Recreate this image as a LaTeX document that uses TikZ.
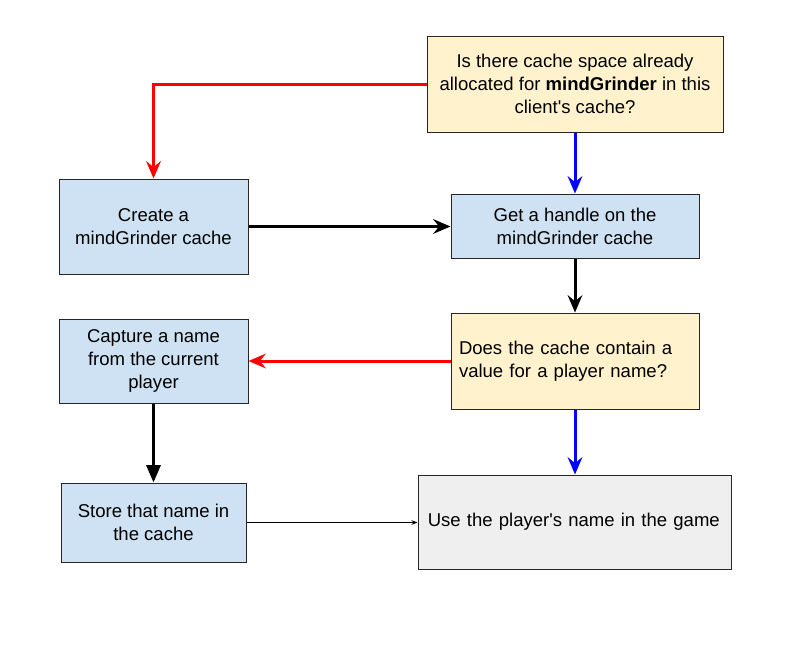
\documentclass[tikz,border=0pt]{standalone}
\usepackage{fontspec}
\setmainfont{Liberation Sans}
\usetikzlibrary{arrows.meta}
\definecolor{ylw}{HTML}{FFF2CC}
\definecolor{blu}{HTML}{CFE2F3}
\definecolor{gry}{HTML}{EFEFEF}
\definecolor{rd}{HTML}{FF0000}
\definecolor{bl}{HTML}{0000FF}
\begin{document}
\begin{tikzpicture}[x=0.75pt,y=-0.75pt,
  box/.style={draw=black!85, line width=0.75pt, rectangle, inner sep=0pt,
    font=\fontsize{13.9}{17.25}\selectfont, align=center},
  yb/.style={box, fill=ylw},
  bb/.style={box, fill=blu},
  gb/.style={box, fill=gry},
  conn/.style={line width=2.25pt, -{Stealth[length=13pt,width=11pt,inset=4.5pt]}},
  redc/.style={conn, draw=rd},
  bluec/.style={conn, draw=bl},
  blkc/.style={conn, draw=black},
  blkt/.style={line width=2.25pt, draw=black, -{Triangle[length=13pt,width=10.5pt]}},
  thin/.style={line width=0.75pt, draw=black, -{Stealth[length=4.5pt,width=3.5pt]}}
]
\useasboundingbox (0,0) rectangle (786,646);
\node[yb, minimum width=222pt, minimum height=72pt] (b1) at (575,84)
  {Is there cache space already\\allocated for \textbf{mindGrinder} in this\\client\textquotesingle s cache?};
\node[bb, minimum width=141.75pt, minimum height=71.25pt] (b2) at (153.5,226.5)
  {Create a\\mindGrinder cache};
\node[bb, minimum width=186pt, minimum height=48pt] (b3) at (575,226)
  {Get a handle on the\\mindGrinder cache};
\node[yb, minimum width=186pt, minimum height=72pt, text width=174pt, align=left] (b4) at (575,361)
  {Does the cache contain a\\value for a player name?};
\node[bb, minimum width=141.75pt, minimum height=63pt] (b5) at (153.5,361)
  {Capture a name\\from the current\\player};
\node[bb, minimum width=138.75pt, minimum height=59.25pt] (b6) at (153.5,522.5)
  {Store that name in\\the cache};
\node[gb, minimum width=234.75pt, minimum height=70.5pt, text width=220pt, align=left] (b7) at (574.5,522)
  {Use the player\textquotesingle s name in the game};
\draw[redc] (b1.west) -| (b2.north);
\draw[bluec] (b1.south) -- (b3.north);
\draw[blkc] (b2.east) -- (b2.east -| b3.west);
\draw[blkc] (b3.south) -- (b4.north);
\draw[redc] (b4.west) -- (b5.east);
\draw[bluec] (b4.south) -- (b4.south |- b7.north);
\draw[blkt] (b5.south) -- (b6.north);
\draw[thin] (b6.east) -- (b6.east -| b7.west);
\end{tikzpicture}
\end{document}
